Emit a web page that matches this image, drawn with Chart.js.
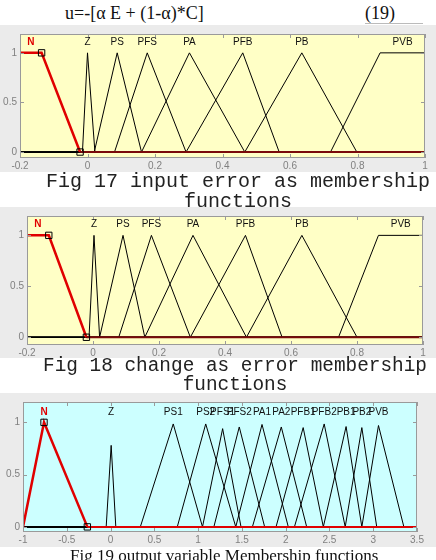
<!DOCTYPE html>
<html>
<head>
<meta charset="utf-8">
<script src="https://cdn.jsdelivr.net/npm/chart.js@4"></script>
<style>
  body { margin: 0; width: 436px; height: 560px; overflow: hidden; background: #fff; position: relative; }
  canvas { position: absolute; left: 0; }
  .cap { position: absolute; text-align: center; color: #222; white-space: nowrap; }
  .mono { font-family: 'Liberation Mono', 'Courier New', monospace; }
  .serif { font-family: 'Liberation Serif', 'Times New Roman', serif; color: #111; }
</style>
</head>
<body>
<div class="cap serif" style="top:2px;left:65px;font-size:18px;line-height:22px;">u=-[α E + (1-α)*C]</div>
<div class="cap serif" style="top:2px;left:365px;font-size:18px;line-height:22px;">(19)</div>
<div style="position:absolute;top:23px;left:365px;width:58px;height:0;border-bottom:1px solid #bbb;"></div>

<canvas id="c1" width="436" height="147" style="top:25px"></canvas>
<div class="cap mono" style="top:172px;left:40px;width:396px;font-size:20px;line-height:20px;">Fig 17 input error as membership<br>functions</div>

<canvas id="c2" width="436" height="151" style="top:207px"></canvas>
<div class="cap mono" style="top:357px;left:36px;width:398px;font-size:19.4px;line-height:19px;">Fig 18 change as error membership<br>functions</div>

<canvas id="c3" width="436" height="154" style="top:393px"></canvas>
<div class="cap serif" style="top:547px;left:70px;font-size:17px;line-height:18px;">Fig 19 output variable Membership functions</div>

<script>
// Fig 17: input error
const errRange = [-0.2, 1];
const errNames = ['N', 'Z', 'PS', 'PFS', 'PA', 'PFB', 'PB', 'PVB'];
const errParams = [
  [-0.2, -0.2, -0.136, -0.022],
  [-0.015, 0, 0.022],
  [0.02, 0.088, 0.16],
  [0.08, 0.177, 0.292],
  [0.16, 0.302, 0.466],
  [0.292, 0.46, 0.568],
  [0.466, 0.635, 0.798],
  [0.72, 0.867, 1, 1]
];
const errPeaks = [1, 1, 1, 1, 1, 1, 1, 1];

// Fig 18: change of error
const chgRange = [-0.2, 1];
const chgNames = ['N', 'Z', 'PS', 'PFS', 'PA', 'PFB', 'PB', 'PVB'];
const chgParams = [
  [-0.2, -0.2, -0.134, -0.02],
  [-0.012, 0.003, 0.02],
  [0.02, 0.091, 0.157],
  [0.078, 0.177, 0.295],
  [0.157, 0.303, 0.465],
  [0.295, 0.462, 0.573],
  [0.465, 0.633, 0.8],
  [0.744, 0.865, 1, 1]
];
const chgPeaks = [1, 1, 1, 1, 1, 1, 1, 1];

// Fig 19: output variable
const outRange = [-1, 3.5];
const outNames = ['N', 'Z', 'PS1', 'PS2', 'PFS1', 'PFS2', 'PA1', 'PA2', 'PFB1', 'PFB2', 'PB1', 'PB2', 'PVB'];
const outParams = [
  [-1, -0.76, -0.265],
  [-0.05, 0.007, 0.06],
  [0.34, 0.716, 1.05],
  [0.762, 1.087, 1.43],
  [1.05, 1.28, 1.49],
  [1.18, 1.47, 1.76],
  [1.43, 1.73, 2.03],
  [1.62, 1.95, 2.24],
  [1.89, 2.2, 2.43],
  [2.1, 2.44, 2.68],
  [2.43, 2.69, 2.87],
  [2.68, 2.87, 3.04],
  [2.87, 3.06, 3.35]
];
const outPeaks = [1, 0.78, 0.985, 0.985, 0.94, 0.956, 0.98, 0.956, 0.95, 0.985, 0.96, 0.95, 0.97];

const x12Ticks = [-0.2, 0, 0.2, 0.4, 0.6, 0.8, 1];
const x3Ticks = [-1, -0.5, 0, 0.5, 1, 1.5, 2, 2.5, 3, 3.5];
const yTicks = [0, 0.5, 1];

// vertices of a triangle / trapezoid mf, padded with zero out to the range
function mfLine(p, h, lo, hi) {
  const top = p.length === 4 ? [p[1], p[2]] : [p[1]];
  const last = p[p.length - 1];
  const pts = [];
  if (p[0] > lo) pts.push({x: lo, y: 0});
  if (top[0] > lo) pts.push({x: p[0], y: 0});
  top.forEach(v => pts.push({x: v, y: h}));
  if (top[top.length - 1] < hi) pts.push({x: last, y: 0});
  if (last < hi) pts.push({x: hi, y: 0});
  return pts;
}

const framePlugin = {
  id: 'frame',
  beforeDraw(chart, args, o) {
    const {ctx, chartArea: a} = chart;
    ctx.save();
    ctx.fillStyle = o.outer;
    ctx.fillRect(0, 0, chart.width, chart.height);
    ctx.fillStyle = o.inner;
    ctx.fillRect(a.left, a.top, a.right - a.left, a.bottom - a.top);
    ctx.restore();
  },
  afterDatasetsDraw(chart, args, o) {
    const {ctx, chartArea: a, scales} = chart;
    ctx.save();
    ctx.strokeStyle = '#9a9a9a';
    ctx.lineWidth = 1;
    ctx.strokeRect(a.left + 0.5, a.top + 0.5, a.right - a.left - 1, a.bottom - a.top - 1);
    ctx.beginPath();
    scales.x.ticks.forEach(t => {
      const px = Math.round(scales.x.getPixelForValue(t.value)) + 0.5;
      ctx.moveTo(px, a.bottom); ctx.lineTo(px, a.bottom - 4);
      ctx.moveTo(px, a.top); ctx.lineTo(px, a.top + 4);
    });
    scales.y.ticks.forEach(t => {
      const py = Math.round(scales.y.getPixelForValue(t.value)) + 0.5;
      ctx.moveTo(a.left, py); ctx.lineTo(a.left + 4, py);
      ctx.moveTo(a.right, py); ctx.lineTo(a.right - 4, py);
    });
    ctx.stroke();
    // mf names above the peaks
    ctx.textAlign = 'center';
    ctx.textBaseline = 'middle';
    const ly = scales.y.getPixelForValue(o.labelY);
    o.names.forEach((n, i) => {
      const p = o.params[i];
      const c = p.length === 4 ? (p[1] + p[2]) / 2 : p[1];
      ctx.font = (i === 0 ? 'bold ' : '') + '10px "Liberation Sans", Arial, sans-serif';
      ctx.fillStyle = i === 0 ? '#e00000' : '#111';
      ctx.fillText(n, scales.x.getPixelForValue(c), ly);
    });
    ctx.restore();
  }
};

function makeChart(id, names, params, peaks, range, xTicks, look) {
  const datasets = names.map((n, i) => {
    const pts = mfLine(params[i], peaks[i], range[0], range[1]);
    if (i === 0) {
      const marks = [pts.length - 3, pts.length - 2];
      return {
        label: n, data: pts,
        borderColor: '#e00000', borderWidth: 2.5,
        segment: {
          borderColor: c => (c.p0.parsed.y === 0 && c.p1.parsed.y === 0) ? look.zeroRed : '#e00000',
          borderWidth: c => (c.p0.parsed.y === 0 && c.p1.parsed.y === 0) ? 2 : 2.5
        },
        pointStyle: 'rect',
        pointRadius: c => marks.includes(c.dataIndex) ? 4.5 : 0,
        pointBackgroundColor: 'rgba(0,0,0,0)',
        pointBorderColor: '#000', pointBorderWidth: 1
      };
    }
    return { label: n, data: pts, borderColor: '#000', borderWidth: 1, pointRadius: 0 };
  });
  return new Chart(document.getElementById(id), {
    type: 'line',
    data: { datasets },
    plugins: [framePlugin],
    options: {
      responsive: false,
      animation: false,
      events: [],
      layout: { padding: look.pad },
      elements: { line: { tension: 0 } },
      scales: {
        x: {
          type: 'linear', min: range[0], max: range[1],
          afterBuildTicks: s => { s.ticks = xTicks.map(v => ({value: v})); },
          afterFit: s => { s.height = look.xh; },
          grid: { display: false, drawTicks: false }, border: { display: false },
          ticks: { color: '#808080', padding: 2, maxRotation: 0, callback: v => String(v),
                   font: { family: 'Liberation Sans', size: 10 } }
        },
        y: {
          min: look.ymin, max: look.ymax,
          afterBuildTicks: s => { s.ticks = yTicks.map(v => ({value: v})); },
          afterFit: s => { s.width = look.yw; },
          grid: { display: false, drawTicks: false }, border: { display: false },
          ticks: { color: '#808080', padding: 3, callback: v => String(v),
                   font: { family: 'Liberation Sans', size: 10 } }
        }
      },
      plugins: {
        legend: { display: false },
        tooltip: { enabled: false },
        frame: { outer: '#ebebeb', inner: look.bg, names, params, labelY: look.labelY }
      }
    }
  });
}

makeChart('c1', errNames, errParams, errPeaks, errRange, x12Ticks, {
  bg: '#ffffc6', zeroRed: '#7a0a0a', pad: {left: 0, right: 11, top: 2, bottom: 0},
  xh: 14, yw: 20, ymin: -0.06, ymax: 1.19, labelY: 1.105
});
makeChart('c2', chgNames, chgParams, chgPeaks, chgRange, x12Ticks, {
  bg: '#ffffc6', zeroRed: '#7a0a0a', pad: {left: 0, right: 13, top: 5, bottom: 0},
  xh: 13, yw: 27, ymin: -0.076, ymax: 1.19, labelY: 1.105
});
makeChart('c3', outNames, outParams, outPeaks, outRange, x3Ticks, {
  bg: '#ccffff', zeroRed: '#e00000', pad: {left: 0, right: 19, top: 5, bottom: 0},
  xh: 15, yw: 23, ymin: -0.049, ymax: 1.195, labelY: 1.093
});
</script>
</body>
</html>
